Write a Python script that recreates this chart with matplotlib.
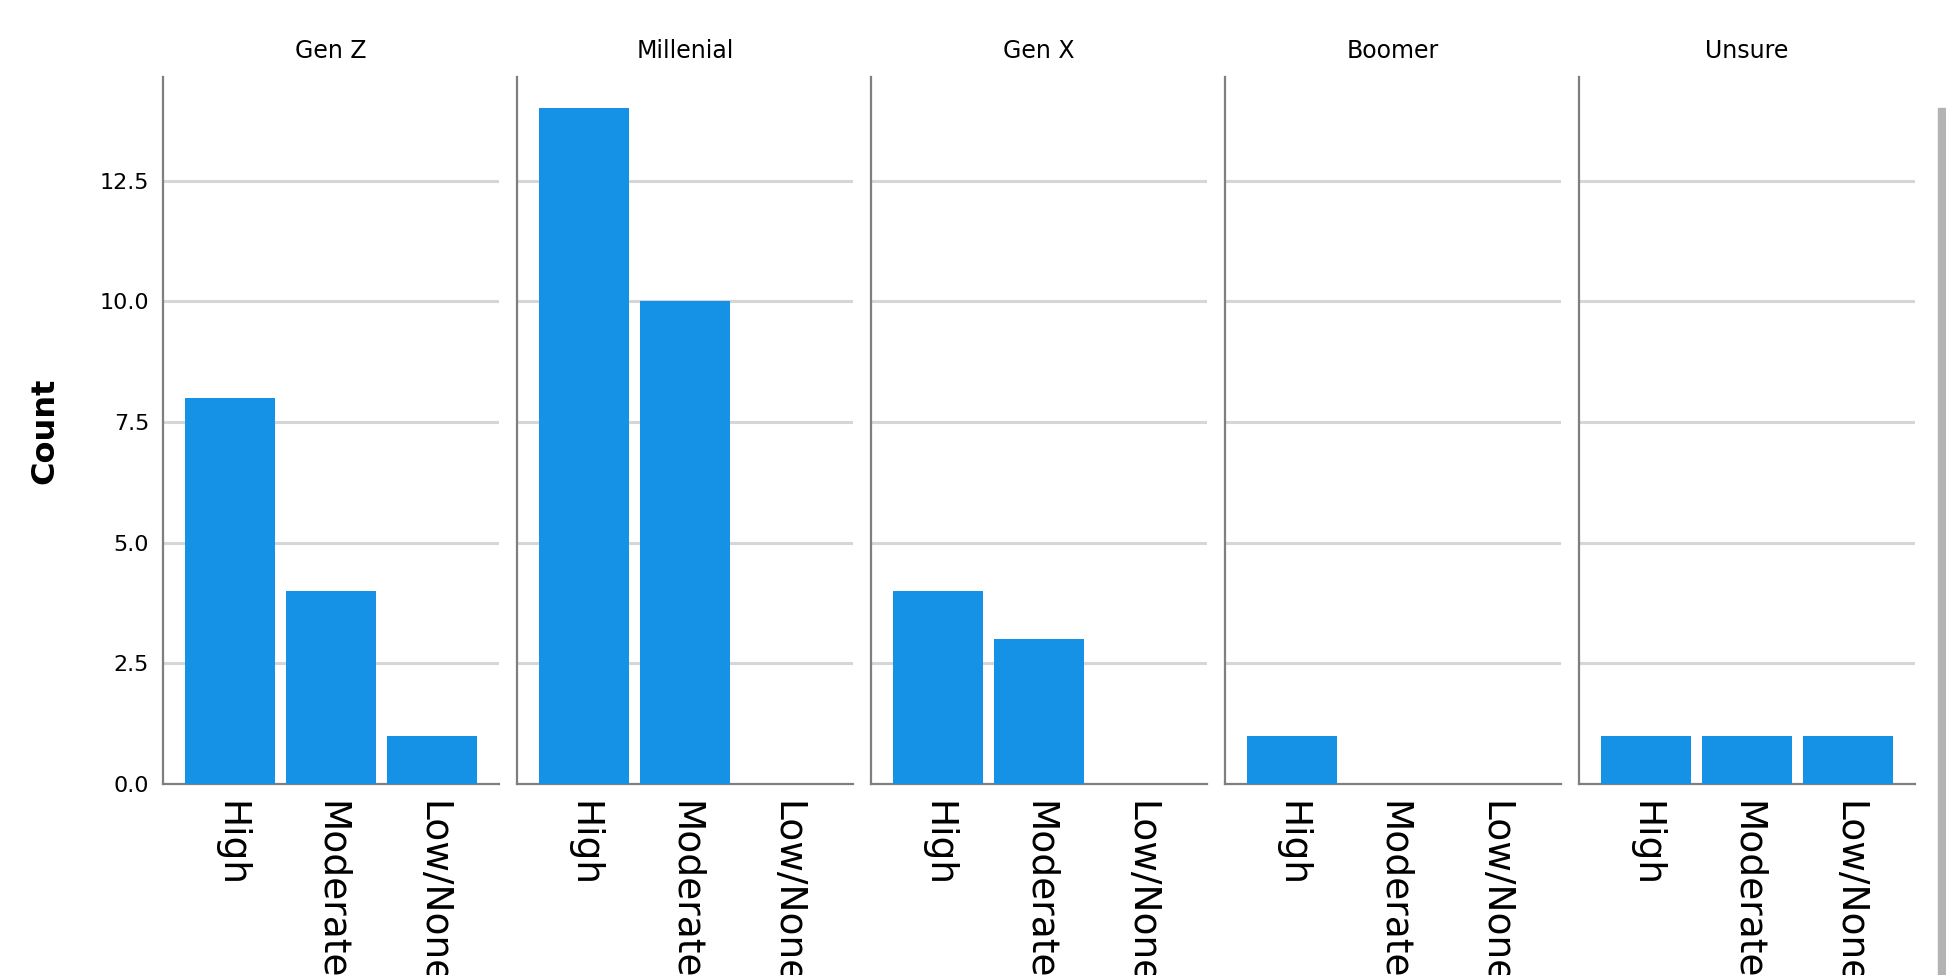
#!/usr/bin/env python3
# -*- coding: utf-8 -*-
"""
Faceted bar chart: count per level, one panel per generation
"""
import matplotlib
matplotlib.use("Agg")
import matplotlib.pyplot as plt
from matplotlib.patches import Rectangle
import numpy as np

generations = ["Gen Z", "Millenial", "Gen X", "Boomer", "Unsure"]
levels = ["High", "Moderate", "Low/None"]
gen_z = [8, 4, 1]
millenial = [14, 10, 0]
gen_x = [4, 3, 0]
boomer = [1, 0, 0]
unsure = [1, 1, 1]
yticks = [0.0, 2.5, 5.0, 7.5, 10.0, 12.5]

counts = [gen_z, millenial, gen_x, boomer, unsure]

bar_colour = "#1591e6"
grid_colour = "#d6d6d6"
spine_colour = "#7f7f7f"

fig, axes = plt.subplots(1, len(generations), figsize=(19.46, 9.75), dpi=100,
                         sharey=True)
fig.subplots_adjust(left=0.0838, right=0.984, bottom=0.196, top=0.921,
                    wspace=0.053)

x = np.arange(len(levels))
for i, ax in enumerate(axes):
    ax.bar(x, counts[i], width=0.89, color=bar_colour, zorder=3)
    ax.set_xlim(-0.66, 2.66)
    ax.set_ylim(0, 14.65)
    ax.set_yticks(yticks)
    ax.yaxis.grid(True, color=grid_colour, linewidth=2.2, zorder=0)
    ax.set_axisbelow(True)

    # only the left and bottom spines are drawn
    for side in ["top", "right"]:
        ax.spines[side].set_visible(False)
    for side in ["left", "bottom"]:
        ax.spines[side].set_color(spine_colour)
        ax.spines[side].set_linewidth(1.6)

    ax.set_xticks(x)
    ax.set_xticklabels(levels, rotation=-90, fontsize=27, va="top",
                       ha="center")
    ax.tick_params(axis="x", length=0, pad=12)
    ax.tick_params(axis="y", length=0, pad=10, labelsize=16)
    if i > 0:
        ax.tick_params(axis="y", labelleft=False)
    ax.set_title(generations[i], fontsize=17, pad=14)

axes[0].set_yticklabels(["%.1f" % t for t in yticks])
axes[0].set_ylabel("Count", fontsize=23, fontweight="bold", labelpad=28)

# grey bar on the right hand edge of the screenshot
fig.patches.append(Rectangle((1938 / 1946, 0), 8 / 1946, 1 - 108 / 975,
                             transform=fig.transFigure, color="#b3b3b3",
                             zorder=0))

plt.savefig("out.png", dpi=100)
